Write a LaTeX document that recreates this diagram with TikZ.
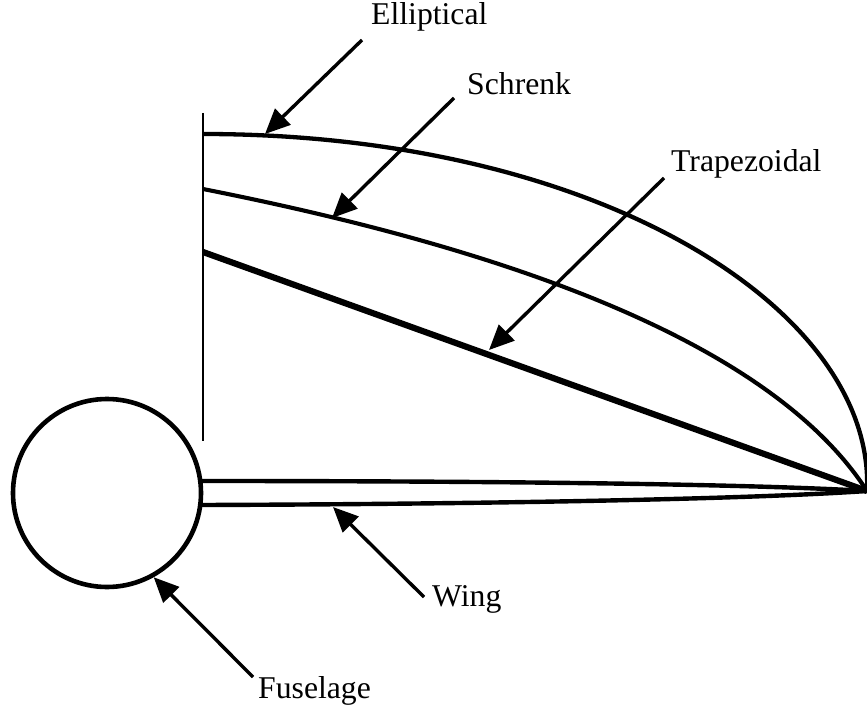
\documentclass[tikz,border=0pt]{standalone}
\usepackage{fontspec}
\setmainfont{Liberation Serif}
\usetikzlibrary{arrows.meta,positioning}
\begin{document}
\begin{tikzpicture}[
    x=1pt, y=-1pt,
    tag/.style={inner sep=0pt, anchor=base west, font=\fontsize{31.7}{36}\selectfont},
    loadline/.style={line width=4.1pt, draw=black},
    wingline/.style={line width=4.4pt, draw=black},
    pointer/.style={-{Triangle[length=25pt,width=22pt]}, line width=3.4pt, draw=black}
]
\useasboundingbox (0,0) rectangle (867,711);
% labels
\node[tag] (elliptical) at (371,25) {Elliptical};
\node[tag] (schrenk) at (467,95) {Schrenk};
\node[tag] (trapezoidal) at (671,172) {Trapezoidal};
\node[tag] (wing) at (432,606) {Wing};
\node[tag] (fuselage) at (258,698) {Fuselage};
% body and axis
\node[circle, draw=black, line width=4.6pt, minimum size=188pt, inner sep=0pt] (body) at (107,493) {};
\coordinate (axistop) at (203,113);
\coordinate (axisbot) at (203,441);
\draw[line width=2.6pt] (axistop) -- (axisbot);
% load curves
\coordinate (tip) at (867,491);
\coordinate (ellroot) at (203,134);
\coordinate (schroot) at (203,189);
\coordinate (traproot) at (203,252);
\draw[loadline, line width=4.3pt] (ellroot) .. controls (600,134) and (875,310) .. (tip);
\draw[loadline] (schroot) .. controls (450,238) and (760,325) .. (tip);
\draw[loadline, line width=6.2pt] (traproot) -- (tip);
% wing
\coordinate (wingtop) at (201,481);
\coordinate (wingbot) at (201,505);
\draw[wingline] (wingtop) .. controls (500,481) and (750,484) .. (tip);
\draw[wingline] (wingbot) .. controls (500,504) and (750,499) .. (tip);
% pointers
\coordinate (ellstart) at (362,40);
\coordinate (schstart) at (454,98);
\coordinate (trapstart) at (664,178);
\coordinate (wingstart) at (424,597);
\coordinate (fusstart) at (253,677);
\coordinate (ellend) at (265,134);
\coordinate (schend) at (332,218);
\coordinate (trapend) at (489,350);
\coordinate (wingend) at (333,507);
\draw[pointer] (ellstart) -- (ellend);
\draw[pointer] (schstart) -- (schend);
\draw[pointer] (trapstart) -- (trapend);
\draw[pointer] (wingstart) -- (wingend);
\draw[pointer] (fusstart) -- (body.-61);
\end{tikzpicture}
\end{document}
